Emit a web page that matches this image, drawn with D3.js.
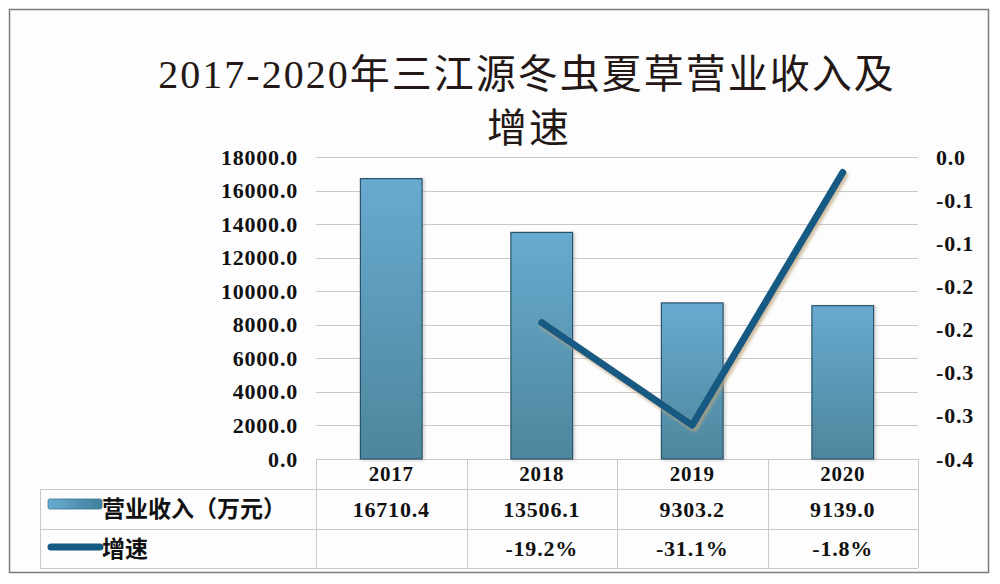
<!DOCTYPE html>
<html>
<head>
<meta charset="utf-8">
<script src="https://cdn.jsdelivr.net/npm/d3@7"></script>
<style>
  html, body { margin: 0; padding: 0; background: #ffffff; }
  svg { display: block; }
</style>
</head>
<body>
<svg id="chart" width="1000" height="584"></svg>
<script>
// data
const years = ['2017', '2018', '2019', '2020']
const revenue = [16710.4, 13506.1, 9303.2, 9139.0]
const growth = [null, -0.192, -0.311, -0.018]
const revenueLabels = ['16710.4', '13506.1', '9303.2', '9139.0']
const growthLabels = ['', '-19.2%', '-31.1%', '-1.8%']
const revenueTicks = [0, 2000, 4000, 6000, 8000, 10000, 12000, 14000, 16000, 18000]
const growthTicks = [0, -0.05, -0.1, -0.15, -0.2, -0.25, -0.3, -0.35]
const growthTickLabels = ['0.0', '-0.1', '-0.1', '-0.2', '-0.2', '-0.3', '-0.3', '-0.4']
const seriesNames = ['营业收入（万元）', '增速']

const numFont = '"Liberation Serif", "DejaVu Serif", serif'
const cjkFont = '"Liberation Serif", "Noto Sans CJK SC", sans-serif'

const plot = { left: 316, right: 918, top: 157, bottom: 459 }
const rows = [459, 489, 529, 568]
const tableLeft = 40

const svg = d3.select('#chart')
const defs = svg.append('defs')

const grad = defs.append('linearGradient')
  .attr('id', 'barGrad')
  .attr('x1', 0).attr('y1', 0).attr('x2', 0).attr('y2', 1)
grad.append('stop').attr('offset', '0%').attr('stop-color', '#68aad0')
grad.append('stop').attr('offset', '100%').attr('stop-color', '#4d869c')

const keyGrad = defs.append('linearGradient')
  .attr('id', 'keyGrad')
  .attr('x1', 0).attr('y1', 0).attr('x2', 1).attr('y2', 0)
keyGrad.append('stop').attr('offset', '0%').attr('stop-color', '#6aacd2')
keyGrad.append('stop').attr('offset', '100%').attr('stop-color', '#3f7f9c')

const lineShadow = defs.append('filter').attr('id', 'lineShadow')
  .attr('x', '-10%').attr('y', '-10%').attr('width', '130%').attr('height', '130%')
lineShadow.append('feDropShadow')
  .attr('dx', 2).attr('dy', 3).attr('stdDeviation', 1.5)
  .attr('flood-color', '#b9a57c').attr('flood-opacity', 0.7)

const barShadow = defs.append('filter').attr('id', 'barShadow')
  .attr('x', '-20%').attr('y', '-10%').attr('width', '150%').attr('height', '130%')
barShadow.append('feDropShadow')
  .attr('dx', 2).attr('dy', 1).attr('stdDeviation', 1.5)
  .attr('flood-color', '#8a8a8a').attr('flood-opacity', 0.35)

// outer frame
svg.append('rect')
  .attr('x', 9.5).attr('y', 9.5).attr('width', 979).attr('height', 563)
  .attr('fill', '#fdfdfd').attr('stroke', '#7c7c7c').attr('stroke-width', 1.5)

// title
const title = svg.append('text')
  .attr('text-anchor', 'middle')
  .attr('font-family', cjkFont)
  .attr('font-size', 40)
  .attr('font-weight', 400)
  .attr('fill', '#231815')
  .attr('letter-spacing', 2)
title.append('tspan').attr('x', 527).attr('y', 88).text('2017-2020年三江源冬虫夏草营业收入及')
title.append('tspan').attr('x', 529).attr('y', 142).text('增速')

// scales
const x = d3.scaleBand()
  .domain(years)
  .range([plot.left, plot.right])
  .paddingInner(0.59)
  .paddingOuter(0.295)

const yLeft = d3.scaleLinear().domain([0, 18000]).range([plot.bottom, plot.top])
const yRight = d3.scaleLinear().domain([-0.35, 0]).range([plot.bottom, plot.top])

// gridlines
svg.append('g')
  .selectAll('line')
  .data(revenueTicks)
  .join('line')
  .attr('x1', plot.left).attr('x2', plot.right)
  .attr('y1', d => Math.round(yLeft(d)) + 0.5)
  .attr('y2', d => Math.round(yLeft(d)) + 0.5)
  .attr('stroke', '#c9c9c9').attr('stroke-width', 1)

// left axis
const leftAxis = svg.append('g')
  .attr('transform', 'translate(' + (plot.left - 18) + ',0)')
  .call(d3.axisLeft(yLeft).tickValues(revenueTicks).tickFormat(d3.format('.1f')).tickSize(0).tickPadding(0))
leftAxis.select('.domain').remove()
leftAxis.selectAll('text')
  .attr('font-family', numFont).attr('font-size', 22).attr('font-weight', 'bold')
  .attr('fill', '#111').attr('letter-spacing', 0.8)

// right axis
const rightAxis = svg.append('g')
  .attr('transform', 'translate(' + (plot.right + 18) + ',0)')
  .call(d3.axisRight(yRight).tickValues(growthTicks)
    .tickFormat((d, i) => growthTickLabels[i]).tickSize(0).tickPadding(0))
rightAxis.select('.domain').remove()
rightAxis.selectAll('text')
  .attr('font-family', numFont).attr('font-size', 22).attr('font-weight', 'bold')
  .attr('fill', '#111').attr('letter-spacing', 0.8)

// bars
svg.append('g')
  .selectAll('rect')
  .data(revenue)
  .join('rect')
  .attr('x', (d, i) => x(years[i]))
  .attr('y', d => yLeft(d))
  .attr('width', x.bandwidth())
  .attr('height', d => yLeft(0) - yLeft(d))
  .attr('fill', 'url(#barGrad)')
  .attr('stroke', '#26536b')
  .attr('stroke-width', 1.2)
  .attr('filter', 'url(#barShadow)')

// growth line
const line = d3.line()
  .defined(d => d != null)
  .x((d, i) => x(years[i]) + x.bandwidth() / 2)
  .y(d => yRight(d))

svg.append('path')
  .datum(growth)
  .attr('d', line)
  .attr('fill', 'none')
  .attr('stroke', '#135a84')
  .attr('stroke-width', 7)
  .attr('stroke-linecap', 'round')
  .attr('stroke-linejoin', 'round')
  .attr('filter', 'url(#lineShadow)')

// data table
const table = svg.append('g')
const step = x.step()
const colEdges = years.map((d, i) => plot.left + i * step).concat([plot.right])

table.selectAll('line.h')
  .data(rows.slice(1))
  .join('line')
  .attr('x1', tableLeft).attr('x2', plot.right)
  .attr('y1', d => d + 0.5).attr('y2', d => d + 0.5)
  .attr('stroke', '#c9c9c9')

table.selectAll('line.v')
  .data(colEdges)
  .join('line')
  .attr('x1', d => Math.round(d) + 0.5).attr('x2', d => Math.round(d) + 0.5)
  .attr('y1', rows[0]).attr('y2', rows[3])
  .attr('stroke', '#c9c9c9')

table.append('line')
  .attr('x1', tableLeft + 0.5).attr('x2', tableLeft + 0.5)
  .attr('y1', rows[1]).attr('y2', rows[3])
  .attr('stroke', '#c9c9c9')

const cellText = (labels, yMid, size) => {
  table.append('g')
    .selectAll('text')
    .data(labels)
    .join('text')
    .attr('x', (d, i) => x(years[i]) + x.bandwidth() / 2)
    .attr('y', yMid)
    .attr('dy', '0.35em')
    .attr('text-anchor', 'middle')
    .attr('font-family', numFont)
    .attr('font-size', size)
    .attr('font-weight', 'bold')
    .attr('letter-spacing', 0.8)
    .attr('fill', '#111')
    .text(d => d)
}

cellText(years, (rows[0] + rows[1]) / 2, 21)
cellText(revenueLabels, (rows[1] + rows[2]) / 2, 22)
cellText(growthLabels, (rows[2] + rows[3]) / 2, 22)

// legend keys in the table
table.append('rect')
  .attr('x', 48).attr('y', 499).attr('width', 54).attr('height', 10)
  .attr('rx', 2)
  .attr('fill', 'url(#keyGrad)')
  .attr('stroke', '#3b7593').attr('stroke-width', 0.8)

table.append('line')
  .attr('x1', 51).attr('x2', 100)
  .attr('y1', 547).attr('y2', 547)
  .attr('stroke', '#135a84').attr('stroke-width', 7)
  .attr('stroke-linecap', 'round')

table.selectAll('text.series')
  .data(seriesNames)
  .join('text')
  .attr('x', 102)
  .attr('y', (d, i) => (rows[i + 1] + rows[i + 2]) / 2)
  .attr('dy', '0.36em')
  .attr('font-family', '"Noto Sans CJK SC", sans-serif')
  .attr('font-size', 23)
  .attr('font-weight', 700)
  .attr('fill', '#111')
  .text(d => d)
</script>
</body>
</html>
